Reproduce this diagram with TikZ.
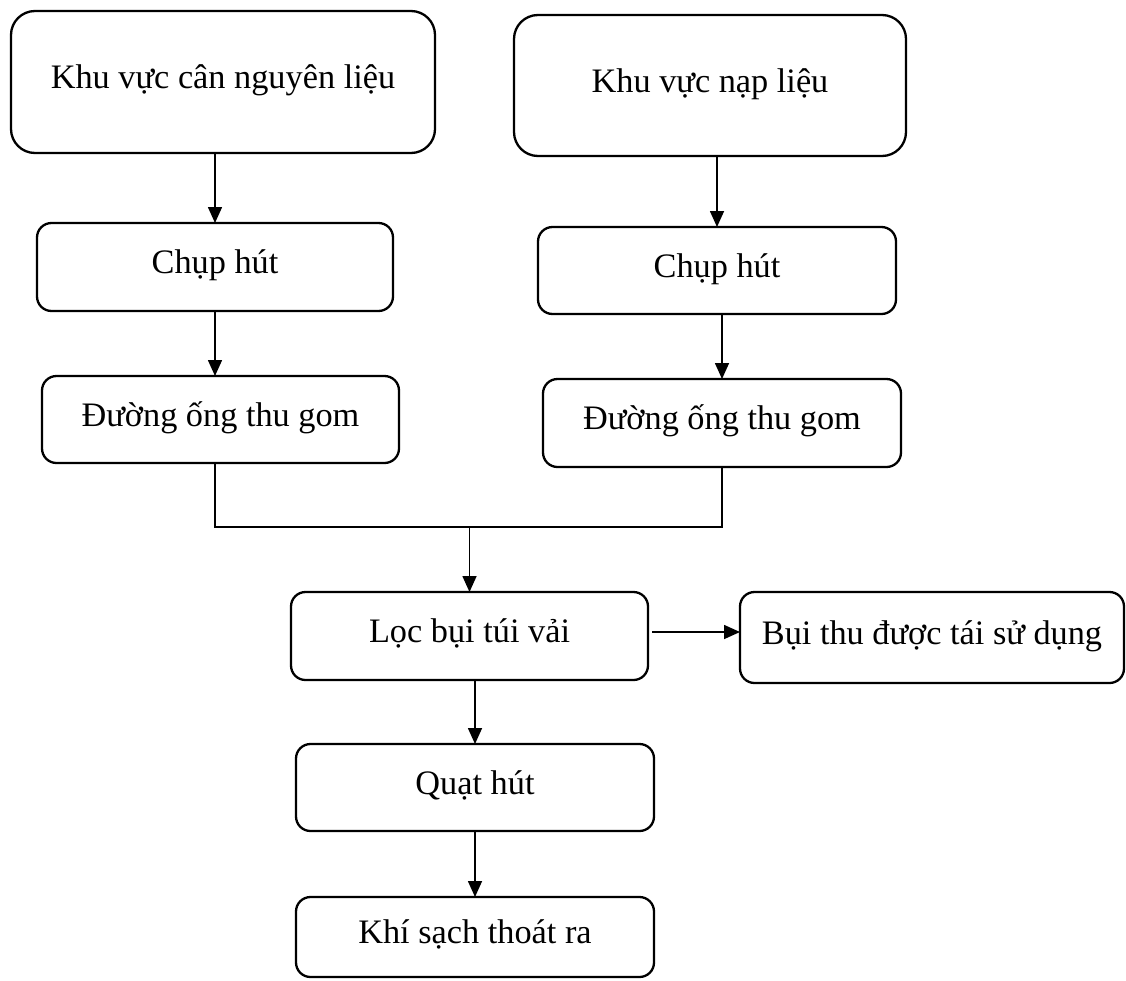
\documentclass[tikz,border=0pt]{standalone}
\usepackage{fontspec}
\setmainfont{Liberation Serif}
\usetikzlibrary{arrows.meta}
\begin{document}
\begin{tikzpicture}[x=1pt,y=-1pt,
  box/.style={draw, line width=2.3pt, rounded corners=14.5pt, inner sep=0pt, outer sep=0pt,
    font=\fontsize{34.3}{40}\selectfont, text height=22pt, text depth=9pt, align=center},
  bigbox/.style={box, rounded corners=24pt},
  conn/.style={line width=1.6pt},
  arr/.style={conn, -{Triangle[length=16pt,width=14pt]}}]
\useasboundingbox (0,0) rectangle (1126,980);
% boxes: centre at ((x1+x2)/2,(y1+y2)/2)
\node[bigbox, minimum width=424pt, minimum height=142pt] (b1) at (223,82) {Khu vực cân nguyên liệu};
\node[bigbox, minimum width=392pt, minimum height=141pt] (b2) at (710,85.5) {Khu vực nạp liệu};
\node[box, minimum width=356pt, minimum height=88pt] (c1) at (215,267) {Chụp hút};
\node[box, minimum width=358pt, minimum height=87pt] (c2) at (717,270.5) {Chụp hút};
\node[box, minimum width=357pt, minimum height=87pt] (d1) at (220.5,419.5) {Đường ống thu gom};
\node[box, minimum width=358pt, minimum height=88pt] (d2) at (722,423) {Đường ống thu gom};
\node[box, minimum width=357pt, minimum height=88pt] (f) at (469.5,636) {Lọc bụi túi vải};
\node[box, minimum width=384pt, minimum height=91pt] (r) at (932,637.5) {Bụi thu được tái sử dụng};
\node[box, minimum width=358pt, minimum height=87pt] (q) at (475,787.5) {Quạt hút};
\node[box, minimum width=358pt, minimum height=80pt] (k) at (475,937) {Khí sạch thoát ra};
% junction of the two collecting lines
\coordinate (m) at (469.5,527);
\coordinate (fo) at ([xshift=4pt,yshift=4pt]f.east);
% connectors
\draw[arr] (b1.south -| c1.north) -- (c1.north);
\draw[arr] (b2.south -| c2.north) -- (c2.north);
\draw[arr] (c1.south) -- (d1.north -| c1.south);
\draw[arr] (c2.south -| d2.north) -- (d2.north);
\draw[conn] (d1.south -| c1.south) |- (m) -| (d2.south);
\draw[arr] (m) -- (f.north);
\draw[arr] (fo) -- (fo -| r.west);
\draw[arr] (q.north |- f.south) -- (q.north);
\draw[arr] (q.south) -- (k.north);
\end{tikzpicture}
\end{document}
